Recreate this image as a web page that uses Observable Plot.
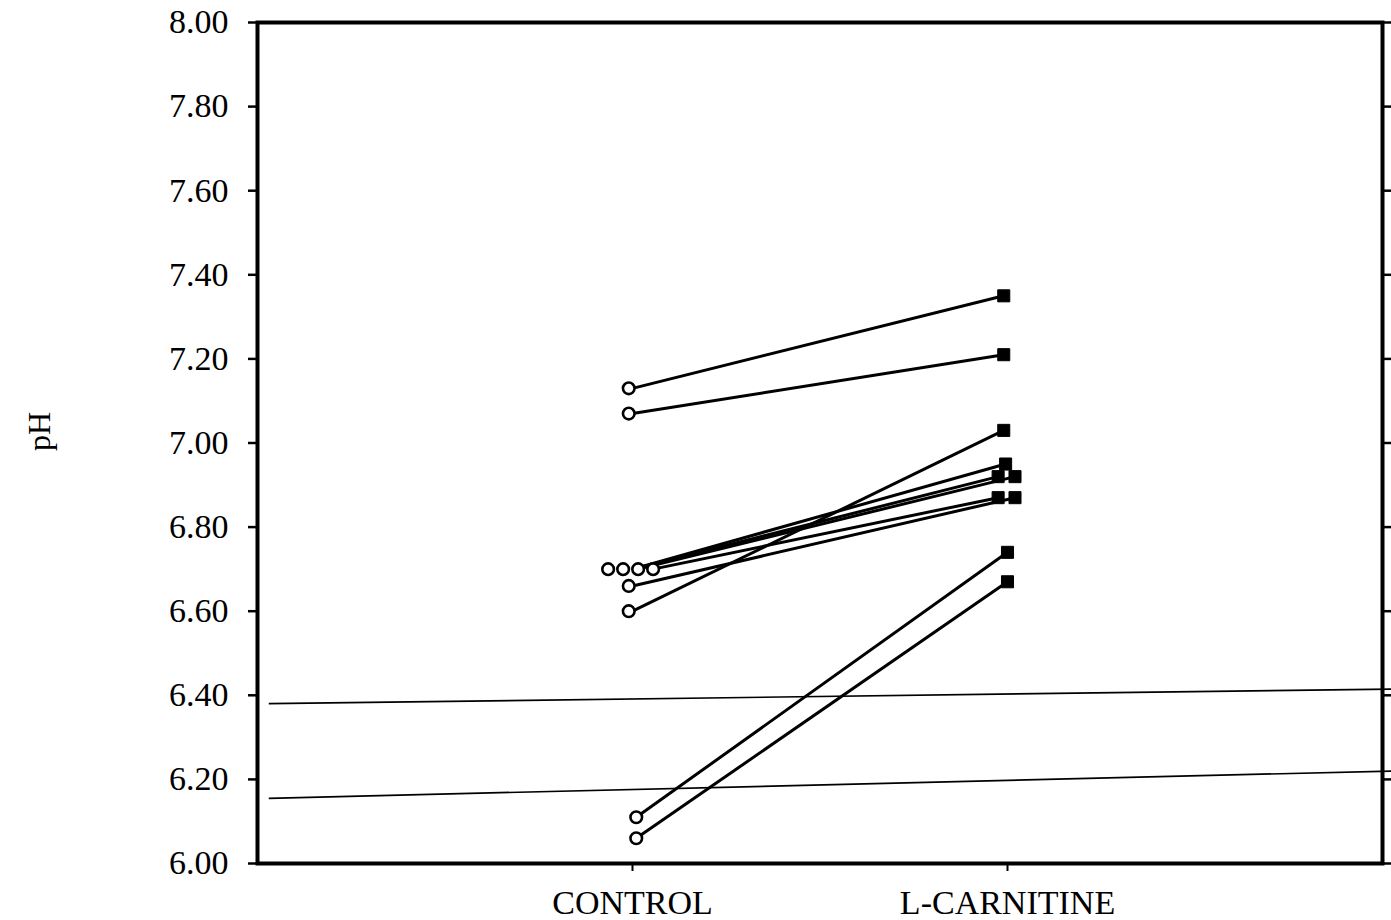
<!DOCTYPE html>
<html>
<head>
<meta charset="utf-8">
<script src="https://cdn.jsdelivr.net/npm/d3@7"></script>
<script src="https://cdn.jsdelivr.net/npm/@observablehq/plot@0.6"></script>
<style>
  html, body { margin: 0; padding: 0; background: #fff; }
  #chart { width: 1391px; height: 920px; }
</style>
</head>
<body>
<div id="chart"></div>
<script>
// ---- data ----
const groups = ["CONTROL", "L-CARNITINE"];
const groupPos = [1, 2];
const controlPH   = [7.13, 7.07, 6.70, 6.70, 6.70, 6.70, 6.66, 6.60, 6.11, 6.06];
const carnitinePH = [7.35, 7.21, 6.95, 6.92, 6.92, 6.87, 6.87, 7.03, 6.74, 6.67];
// small horizontal offsets used in the original to separate overlapping markers
const controlJitter   = [-0.01, -0.01, -0.065, -0.025, 0.015, 0.055, -0.01, -0.01, 0.01, 0.01];
const carnitineJitter = [-0.01, -0.01, -0.005, -0.025, 0.02, -0.025, 0.02, -0.01, 0, 0];
// two reference lines (left end value, right end value)
const refLeft  = [6.38, 6.155];
const refRight = [6.415, 6.22];
const yTicks = [6.0, 6.2, 6.4, 6.6, 6.8, 7.0, 7.2, 7.4, 7.6, 7.8, 8.0];
const yLabel = "pH";

// ---- derived tables ----
const pairs = controlPH.map((c, i) => ({
  c, l: carnitinePH[i],
  cx: groupPos[0] + controlJitter[i],
  lx: groupPos[1] + carnitineJitter[i]
}));
const refs = refLeft.map((v, i) => ({a: v, b: refRight[i]}));

const font = "'Liberation Serif', 'Times New Roman', serif";

const chart = Plot.plot({
  width: 1391,
  height: 920,
  marginLeft: 257,
  marginRight: 9,
  marginTop: 22,
  marginBottom: 57,
  style: {fontFamily: font, fontSize: "34px", color: "#000", background: "#fff"},
  x: {domain: [0, 3]},
  y: {domain: [6, 8]},
  marks: [
    Plot.link(refs, {x1: 0.03, x2: 3.03, y1: "a", y2: "b", stroke: "#000", strokeWidth: 1.7, clip: false}),
    Plot.link(pairs, {x1: d => d.cx < 1 ? groupPos[0] : d.cx, x2: "lx", y1: "c", y2: "l", stroke: "#000", strokeWidth: 3}),
    Plot.dot(pairs, {x: "cx", y: "c", r: 5.8, symbol: "circle", stroke: "#000", strokeWidth: 2.6, fill: "#fff"}),
    Plot.dot(pairs, {x: "lx", y: "l", r: 6.8, symbol: "square", fill: "#000", stroke: "#000", strokeWidth: 1}),
    Plot.axisY(yTicks, {anchor: "left", tickFormat: d => d.toFixed(2), tickSize: 9, tickPadding: 20, strokeWidth: 2.5, label: null, fontSize: 34}),
    Plot.axisY(yTicks, {anchor: "right", tickFormat: () => "", tickSize: 9, strokeWidth: 2.5, label: null}),
    Plot.axisX(groupPos, {tickFormat: (d, i) => groups[i], tickSize: 8, tickPadding: 18, strokeWidth: 2, label: null, fontSize: 34}),
    Plot.text([yLabel], {frameAnchor: "left", text: d => d, rotate: -90, dx: -218, dy: 8, fontSize: 32}),
    Plot.frame({stroke: "#000", strokeWidth: 4})
  ]
});
document.getElementById("chart").appendChild(chart);
</script>
</body>
</html>
